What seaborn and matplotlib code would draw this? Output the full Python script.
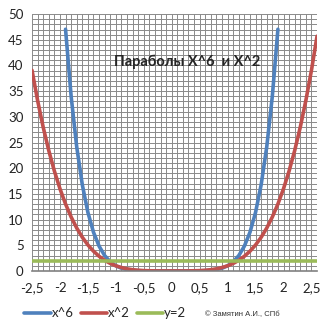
import matplotlib
matplotlib.use('Agg')
import matplotlib.pyplot as plt
import seaborn as sns
import pandas as pd
from matplotlib.ticker import MultipleLocator

sns.set_style("white")
plt.rcParams['font.family'] = ['Lato', 'DejaVu Sans']

# Dane (kategorie co 0,1)
x_vals = [-2.5, -2.4, -2.3, -2.2, -2.1, -2.0, -1.9, -1.8, -1.7, -1.6, -1.5, -1.4, -1.3,
          -1.2, -1.1, -1.0, -0.9, -0.8, -0.7, -0.6, -0.5, -0.4, -0.3, -0.2, -0.1, 0.0,
          0.1, 0.2, 0.3, 0.4, 0.5, 0.6, 0.7, 0.8, 0.9, 1.0, 1.1, 1.2, 1.3, 1.4, 1.5,
          1.6, 1.7, 1.8, 1.9, 2.0, 2.1, 2.2, 2.3, 2.4, 2.5, 2.6]

# czerwona seria (opisana w legendzie jako x^2)
red_vals = [39.06, 33.18, 27.98, 23.43, 19.45, 16.00, 13.03, 10.50, 8.35, 6.55, 5.06, 3.84, 2.86,
            2.07, 1.46, 1.00, 0.66, 0.41, 0.24, 0.13, 0.06, 0.03, 0.01, 0.00, 0.00, 0.00,
            0.00, 0.00, 0.01, 0.03, 0.06, 0.13, 0.24, 0.41, 0.66, 1.00, 1.46, 2.07, 2.86,
            3.84, 5.06, 6.55, 8.35, 10.50, 13.03, 16.00, 19.45, 23.43, 27.98, 33.18, 39.06, 45.70]

# niebieska seria x^6 (tylko od -1,9 do 1,9)
blue_x = x_vals[6:45]
blue_vals = [47.05, 34.01, 24.14, 16.78, 11.39, 7.53, 4.83, 2.99, 1.77, 1.00, 0.53, 0.26,
             0.12, 0.05, 0.02, 0.00, 0.00, 0.00, 0.00, 0.00, 0.00, 0.00, 0.00, 0.00, 0.02,
             0.05, 0.12, 0.26, 0.53, 1.00, 1.77, 2.99, 4.83, 7.53, 11.39, 16.78, 24.14,
             34.01, 47.05]

green_vals = [2] * len(x_vals)

tick_vals = [-2.5, -2.0, -1.5, -1.0, -0.5, 0.0, 0.5, 1.0, 1.5, 2.0, 2.5]
tick_labels = ["-2,5", "-2", "-1,5", "-1", "-0,5", "0", "0,5", "1", "1,5", "2", "2,5"]

df = pd.concat([
    pd.DataFrame({"x": blue_x, "y": blue_vals, "seria": "x^6"}),
    pd.DataFrame({"x": x_vals, "y": red_vals, "seria": "x^2"}),
    pd.DataFrame({"x": x_vals, "y": green_vals, "seria": "y=2"}),
])

palette = {"x^6": "#4F81BD", "x^2": "#C0504D", "y=2": "#9BBB59"}

fig = plt.figure(figsize=(3.25, 3.28), dpi=100)
ax = fig.add_axes([0.0985, 0.174, 0.877, 0.783])

sns.lineplot(data=df, x="x", y="y", hue="seria", palette=palette,
             linewidth=2.6, ax=ax, sort=False)

ax.set_xlim(-2.5, 2.6)
ax.set_ylim(0, 50)
ax.xaxis.set_minor_locator(MultipleLocator(0.1))
ax.yaxis.set_minor_locator(MultipleLocator(1))
ax.set_xticks(tick_vals)
ax.set_xticklabels(tick_labels)
ax.set_yticks(range(0, 51, 5))
ax.grid(True, which="both", color="#8a8a8a", linewidth=0.7)
ax.set_axisbelow(True)
ax.tick_params(axis="both", which="both", length=0, labelsize=9.5, colors="#222222")
ax.tick_params(axis="x", pad=8)
ax.tick_params(axis="y", pad=6)
for side in ["top", "right", "left"]:
    ax.spines[side].set_visible(False)
ax.spines["bottom"].set_color("#808080")
ax.spines["bottom"].set_linewidth(1.2)
ax.set_xlabel("")
ax.set_ylabel("")

fig.text(0.575, 0.81, "Параболы X^6  и X^2", fontsize=10.5, fontweight="bold",
         ha="center", va="center")

ax.legend(loc="center left", bbox_to_anchor=(-0.045, -0.165), ncol=3, frameon=False,
          fontsize=9.5, handlelength=2.0, handletextpad=0.05, columnspacing=0.55,
          borderaxespad=0)
fig.text(0.63, 0.042, "© Замятин А.И., СПб", fontsize=5.5, ha="left", va="center",
         color="#333333", family=["Liberation Sans", "DejaVu Sans"])

fig.savefig("out.png", dpi=100)
